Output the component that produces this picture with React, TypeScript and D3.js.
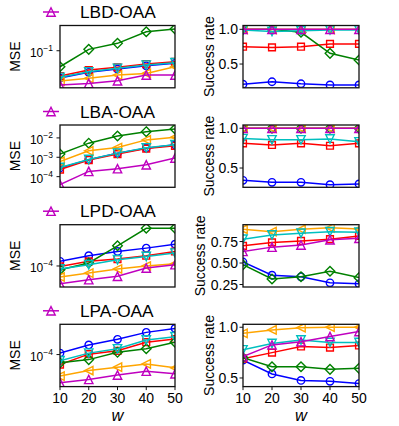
import * as d3 from "d3"
import React from "react"

const windowSizes = [10, 20, 30, 40, 50]
const rowLabels = ["LBD-OAA", "LBA-OAA", "LPD-OAA", "LPA-OAA"]

// series order: blue o, red s, green D, orange <, cyan v, magenta ^
const colors = ["#0000ff", "#ff0000", "#008000", "#ffa500", "#00bfbf", "#bf00bf"]
const markers = ["circle", "square", "diamond", "triLeft", "triDown", "triUp"]

// MSE (log scale)
const mseLBD = [
  [0.0284, 0.037, 0.043, 0.05, 0.056],
  [0.0312, 0.0411, 0.0466, 0.0542, 0.0603],
  [0.0479, 0.1066, 0.1406, 0.24, 0.272],
  [0.0248, 0.0281, 0.0327, 0.0353, 0.0479],
  [0.0294, 0.038, 0.0445, 0.0518, 0.0575],
  [0.0206, 0.0223, 0.0251, 0.0327, 0.0327],
]
const mseLBA = [
  [2.8e-4, 7.4e-4, 1.64e-3, 2.96e-3, 4.4e-3],
  [2.3e-4, 7.2e-4, 1.46e-3, 2.8e-3, 3.9e-3],
  [1.46e-3, 5.35e-3, 1.26e-2, 2.1e-2, 2.9e-2],
  [6.1e-4, 2.15e-3, 3.2e-3, 7.9e-3, 1.09e-2],
  [3.0e-4, 7.7e-4, 1.64e-3, 3.07e-3, 4.5e-3],
  [3.9e-5, 1.87e-4, 2.57e-4, 4.1e-4, 9.1e-4],
]
const mseLPD = [
  [1.24e-4, 1.61e-4, 1.96e-4, 2.29e-4, 2.75e-4],
  [0.98e-4, 1.24e-4, 1.38e-4, 1.61e-4, 1.96e-4],
  [0.84e-4, 1.15e-4, 2.55e-4, 5.75e-4, 5.75e-4],
  [0.6e-4, 0.72e-4, 0.87e-4, 1.0e-4, 1.11e-4],
  [0.87e-4, 1.06e-4, 1.34e-4, 1.56e-4, 1.82e-4],
  [0.44e-4, 0.53e-4, 0.62e-4, 0.91e-4, 1.06e-4],
]
const mseLPA = [
  [1.07e-4, 1.57e-4, 2.04e-4, 2.82e-4, 3.39e-4],
  [0.625e-4, 1.02e-4, 1.19e-4, 1.78e-4, 2.07e-4],
  [0.68e-4, 0.79e-4, 1.11e-4, 1.31e-4, 1.78e-4],
  [0.366e-4, 0.474e-4, 0.555e-4, 0.646e-4, 0.537e-4],
  [0.75e-4, 1.07e-4, 1.31e-4, 1.98e-4, 2.31e-4],
  [0.269e-4, 0.313e-4, 0.384e-4, 0.461e-4, 0.407e-4],
]

// success rate
const rateLBD = [
  [0.21, 0.245, 0.216, 0.2, 0.2],
  [0.75, 0.74, 0.75, 0.79, 0.79],
  [1.0, 1.0, 0.957, 0.654, 0.558],
  [1.0, 1.0, 1.0, 1.0, 1.0],
  [0.99, 0.97, 0.98, 0.99, 0.99],
  [1.0, 1.0, 1.0, 1.0, 1.0],
]
const rateLBA = [
  [0.345, 0.32, 0.32, 0.29, 0.3],
  [0.81, 0.79, 0.81, 0.78, 0.81],
  [1.0, 1.0, 1.0, 1.0, 1.0],
  [1.0, 1.0, 1.0, 1.0, 1.0],
  [0.87, 0.855, 0.855, 0.865, 0.83],
  [1.0, 1.0, 1.0, 1.0, 1.0],
]
const rateLPD = [
  [0.512, 0.358, 0.34, 0.27, 0.258],
  [0.7, 0.74, 0.757, 0.778, 0.816],
  [0.48, 0.315, 0.34, 0.405, 0.33],
  [0.893, 0.865, 0.893, 0.91, 0.896],
  [0.778, 0.827, 0.847, 0.865, 0.858],
  [0.635, 0.685, 0.71, 0.77, 0.788],
]
const rateLPA = [
  [0.675, 0.54, 0.476, 0.467, 0.445],
  [0.69, 0.75, 0.81, 0.8, 0.82],
  [0.7, 0.61, 0.61, 0.585, 0.595],
  [0.94, 0.974, 0.996, 1.0, 1.0],
  [0.777, 0.84, 0.875, 0.85, 0.85],
  [0.71, 0.826, 0.858, 0.908, 0.957],
]

const mseRows = [mseLBD, mseLBA, mseLPD, mseLPA]
const rateRows = [rateLBD, rateLBA, rateLPD, rateLPA]

const mseTicks = [[1e-1], [1e-2, 1e-3, 1e-4], [1e-4], [1e-4]]
const mseLimits = [[0.0182, 0.319], [2.82e-5, 0.0464], [3.77e-5, 6.79e-4], [2.24e-5, 4.11e-4]]
const rateTicks = [[0.5, 1.0], [0.5, 1.0], [0.25, 0.5, 0.75], [0.5, 1.0]]
const rateTickLabels = [["0.5", "1.0"], ["0.5", "1.0"], ["0.25", "0.50", "0.75"], ["0.5", "1.0"]]
const rateLimits = [[0.158, 1.055], [0.2575, 1.041], [0.221, 0.946], [0.415, 1.029]]

const FONT = "'Liberation Sans', Arial, Helvetica, sans-serif"
const rowTops = [25.5, 125, 224.7, 324.3]
const panelH = 62.3
const leftX = [60, 175]
const rightX = [243, 359]

function markerPath(kind: string, x: number, y: number) {
  const r = 4.2
  switch (kind) {
    case "circle":
      return `M${x + 3.7},${y}A3.7,3.7 0 1,1 ${x - 3.7},${y}A3.7,3.7 0 1,1 ${x + 3.7},${y}Z`
    case "square":
      return `M${x - 3.4},${y - 3.4}h6.8v6.8h-6.8Z`
    case "diamond":
      return `M${x},${y - 4.8}L${x + 4.8},${y}L${x},${y + 4.8}L${x - 4.8},${y}Z`
    case "triUp":
      return `M${x},${y - r}L${x + r},${y + r}L${x - r},${y + r}Z`
    case "triDown":
      return `M${x},${y + r}L${x + r},${y - r}L${x - r},${y - r}Z`
    default:
      return `M${x - r},${y}L${x + r},${y - r}L${x + r},${y + r}Z`
  }
}

function Panel(props: any) {
  const { id, x0, x1, top, yScale, data, ticks, tickLabels, showX } = props
  const bottom = top + panelH
  const xScale = d3.scaleLinear().domain([10, 50]).range([x0, x1])
  const line = d3.line<number>()
    .x((d, i) => xScale(windowSizes[i]))
    .y(d => yScale(d))
  return (
    <g>
      <defs>
        <clipPath id={id}>
          <rect x={x0} y={top} width={x1 - x0} height={panelH} />
        </clipPath>
      </defs>
      <g clipPath={`url(#${id})`}>
        {data.map((s: number[], k: number) => (
          <g key={k}>
            <path d={line(s) || ""} fill="none" stroke={colors[k]} strokeWidth={1.5} />
            {s.map((v, i) => (
              <path key={i} d={markerPath(markers[k], xScale(windowSizes[i]), yScale(v))}
                fill="none" stroke={colors[k]} strokeWidth={1.4} />
            ))}
          </g>
        ))}
      </g>
      <rect x={x0} y={top} width={x1 - x0} height={panelH} fill="none" stroke="#111" strokeWidth={1.3} />
      {ticks.map((t: number, i: number) => (
        <g key={i}>
          <line x1={x0 - 3.5} x2={x0} y1={yScale(t)} y2={yScale(t)} stroke="#111" strokeWidth={1} />
          {tickLabels ? (
            <text x={x0 - 5} y={yScale(t)} dy="0.36em" textAnchor="end" fontSize={14} fontFamily={FONT}>{tickLabels[i]}</text>
          ) : (
            <text x={x0 - 7} y={yScale(t) + 6.5} textAnchor="end" fontSize={12} fontFamily={FONT}>
              10<tspan dy={-6} fontSize={8.5}>{"\u2212" + Math.abs(Math.round(Math.log10(t)))}</tspan>
            </text>
          )}
        </g>
      ))}
      {showX && windowSizes.map(t => (
        <g key={t}>
          <line x1={xScale(t)} x2={xScale(t)} y1={bottom} y2={bottom + 3.5} stroke="#111" strokeWidth={1} />
          <text x={xScale(t)} y={bottom + 16} textAnchor="middle" fontSize={14} fontFamily={FONT}>{t}</text>
        </g>
      ))}
      {showX && (
        <text x={(x0 + x1) / 2} y={bottom + 34.3} textAnchor="middle" fontSize={16.5} fontStyle="italic" fontFamily={FONT}>w</text>
      )}
    </g>
  )
}

export default function App() {
  return (
    <svg width={399} height={426} style={{ position: "absolute", left: 0, top: 0, background: "#fff" }}>
      {rowLabels.map((label, r) => {
        const top = rowTops[r]
        const bottom = top + panelH
        const mseScale = d3.scaleLog().domain(mseLimits[r]).range([bottom, top])
        const rateScale = d3.scaleLinear().domain(rateLimits[r]).range([bottom, top])
        const ly = top - 13.5
        // the y label moves left when the tick labels are wider
        const rateLabelX = r === 2 ? 205 : 213.5
        return (
          <g key={label}>
            <line x1={43} x2={59} y1={ly} y2={ly} stroke={colors[5]} strokeWidth={1.5} />
            <path d={markerPath("triUp", 51, ly)} fill="none" stroke={colors[5]} strokeWidth={1.4} />
            <text x={80} y={ly + 6} fontSize={17.3} fontFamily={FONT}>{label}</text>
            <text transform={`translate(20,${(top + bottom) / 2}) rotate(-90)`} textAnchor="middle" fontSize={14} fontFamily={FONT}>MSE</text>
            <text transform={`translate(${rateLabelX},${(top + bottom) / 2}) rotate(-90)`} textAnchor="middle" fontSize={14} fontFamily={FONT}>Success rate</text>
            <Panel id={`mse${r}`} x0={leftX[0]} x1={leftX[1]} top={top} yScale={mseScale}
              data={mseRows[r]} ticks={mseTicks[r]} showX={r === 3} />
            <Panel id={`rate${r}`} x0={rightX[0]} x1={rightX[1]} top={top} yScale={rateScale}
              data={rateRows[r]} ticks={rateTicks[r]} tickLabels={rateTickLabels[r]} showX={r === 3} />
          </g>
        )
      })}
    </svg>
  )
}
